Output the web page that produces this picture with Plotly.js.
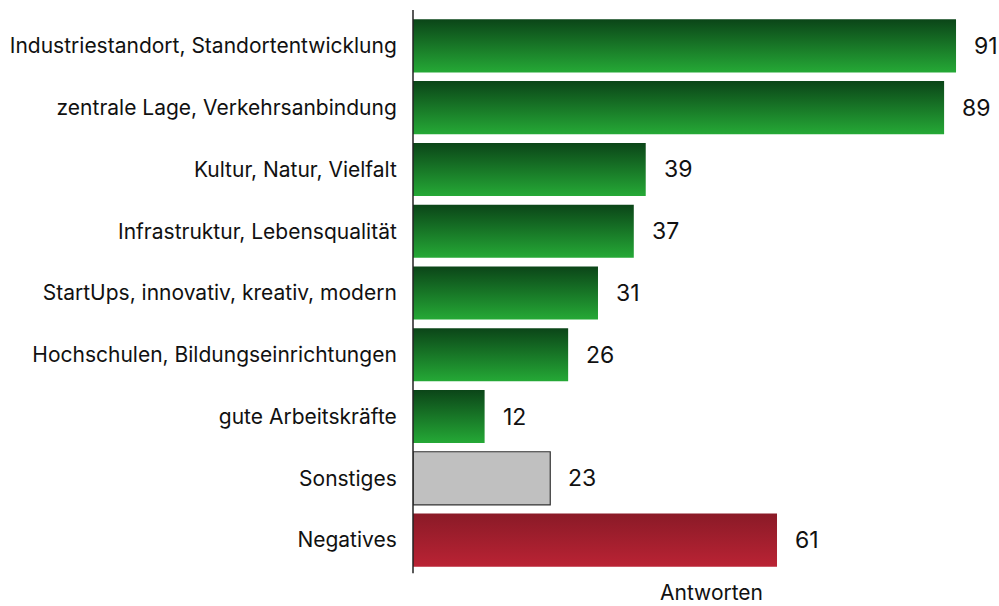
<!DOCTYPE html>
<html>
<head>
<meta charset="utf-8">
<script src="https://cdn.plot.ly/plotly-3.0.1.min.js"></script>
<style>
  html, body { margin: 0; padding: 0; background: #fff; }
  #chart { width: 999px; height: 606px; }
</style>
</head>
<body>
<div id="chart"></div>
<script>
// answers per category, top to bottom
const categories = [
  "Industriestandort, Standortentwicklung",
  "zentrale Lage, Verkehrsanbindung",
  "Kultur, Natur, Vielfalt",
  "Infrastruktur, Lebensqualität",
  "StartUps, innovativ, kreativ, modern",
  "Hochschulen, Bildungseinrichtungen",
  "gute Arbeitskräfte",
  "Sonstiges",
  "Negatives"
];
const counts = [91, 89, 39, 37, 31, 26, 12, 23, 61];
const kinds = ["pos", "pos", "pos", "pos", "pos", "pos", "pos", "other", "neg"];

const baseColor = { pos: "#1a7a2a", other: "#c0c0c0", neg: "#a01f2d" };
const gradFor = { pos: "url(#gGreen)", neg: "url(#gRed)", other: null };

const font = "Inter, 'DejaVu Sans', sans-serif";

const trace = {
  type: "bar",
  orientation: "h",
  y: categories,
  x: counts,
  marker: {
    color: kinds.map(k => baseColor[k]),
    line: {
      color: kinds.map(k => k === "other" ? "#333" : "rgba(0,0,0,0)"),
      width: kinds.map(k => k === "other" ? 1.2 : 0)
    }
  },
  hoverinfo: "x+y"
};

// value labels to the right of each bar
const valueNotes = counts.map((v, i) => ({
  x: v, y: categories[i], xref: "x", yref: "y",
  text: String(v), showarrow: false,
  xanchor: "left", xshift: 16,
  font: { family: font, size: 23, color: "#111" }
}));

const layout = {
  width: 999,
  height: 606,
  margin: { l: 413, r: 0, t: 15, b: 35 },
  paper_bgcolor: "#fff",
  plot_bgcolor: "#fff",
  showlegend: false,
  bargap: 0.14,
  font: { family: font, color: "#111" },
  xaxis: {
    range: [0, 98.2],
    showgrid: false,
    zeroline: false,
    showticklabels: false,
    showline: false,
    fixedrange: true
  },
  yaxis: {
    autorange: "reversed",
    showline: false,
    showgrid: false,
    ticks: "outside",
    ticklen: 11,
    tickcolor: "rgba(0,0,0,0)",
    tickfont: { family: font, size: 21, color: "#111" },
    fixedrange: true
  },
  shapes: [{
    type: "line", xref: "paper", yref: "paper",
    x0: 0, x1: 0, y0: -0.004, y1: 1.009,
    line: { color: "#222", width: 1.5 }
  }],
  annotations: valueNotes.concat([{
    x: 50, y: 0, xref: "x", yref: "paper",
    yanchor: "top", yshift: -7,
    text: "Antworten", showarrow: false,
    font: { family: font, size: 21, color: "#111" }
  }])
};

const gd = document.getElementById("chart");
Plotly.newPlot(gd, [trace], layout, { displayModeBar: false, staticPlot: true }).then(() => {
  // add vertical gradients and apply them to the bars
  const svg = gd.querySelector(".main-svg");
  const ns = "http://www.w3.org/2000/svg";
  let defs = svg.querySelector("defs");
  if (!defs) { defs = document.createElementNS(ns, "defs"); svg.insertBefore(defs, svg.firstChild); }
  const addGrad = (id, top, bottom) => {
    const g = document.createElementNS(ns, "linearGradient");
    g.setAttribute("id", id);
    g.setAttribute("x1", "0"); g.setAttribute("y1", "0");
    g.setAttribute("x2", "0"); g.setAttribute("y2", "1");
    [[0, top], [1, bottom]].forEach(([o, c]) => {
      const s = document.createElementNS(ns, "stop");
      s.setAttribute("offset", o);
      s.setAttribute("stop-color", c);
      g.appendChild(s);
    });
    defs.appendChild(g);
  };
  addGrad("gGreen", "#0b4518", "#25a936");
  addGrad("gRed", "#8a1a27", "#ba2334");

  const paths = gd.querySelectorAll(".barlayer .point path");
  paths.forEach((p, i) => {
    const g = gradFor[kinds[i]];
    if (g) p.style.fill = g;
  });
});
</script>
</body>
</html>
